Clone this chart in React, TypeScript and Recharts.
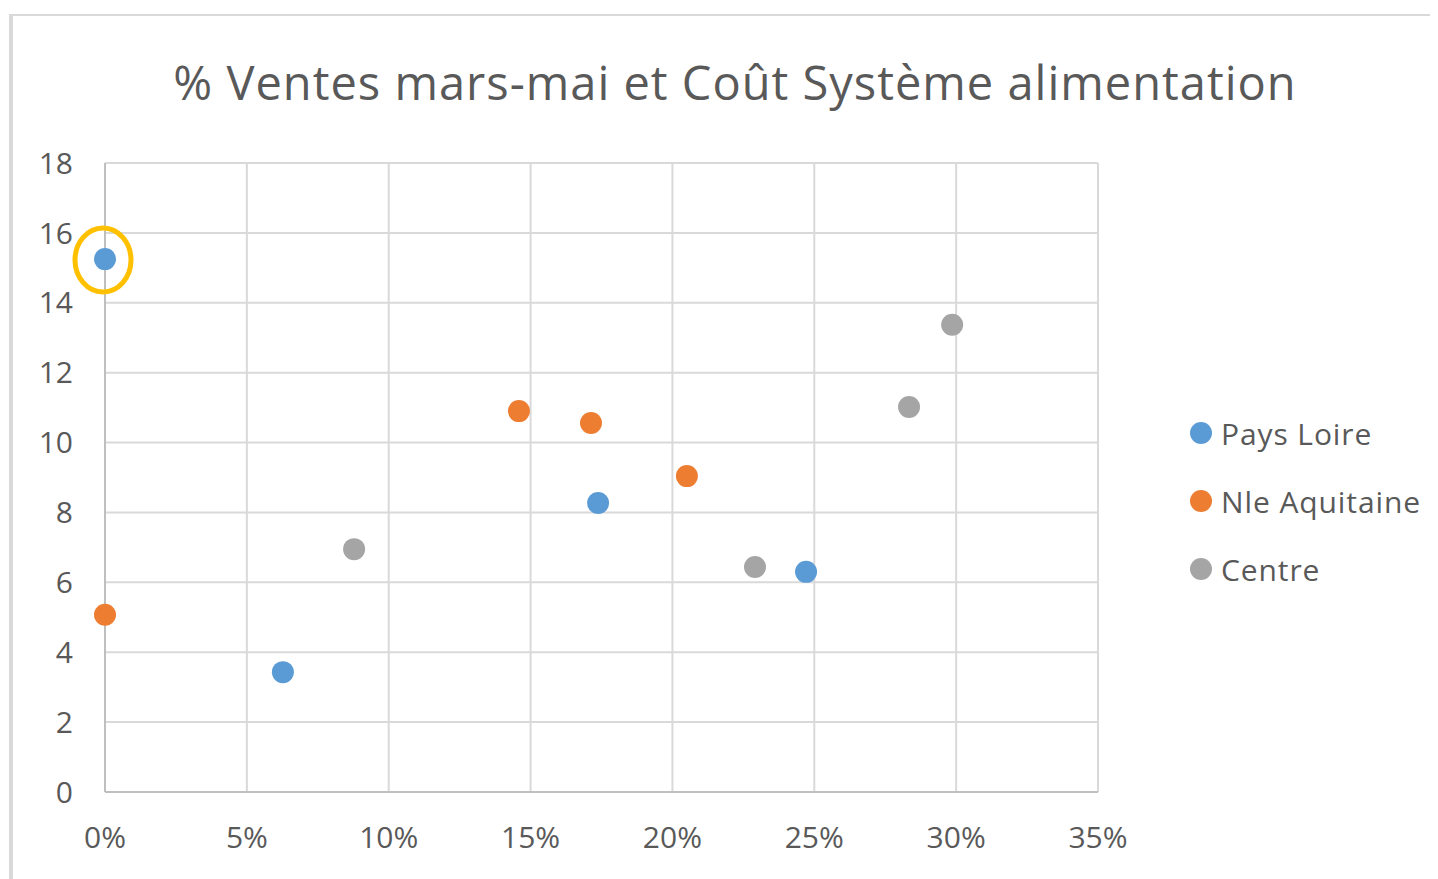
import React from 'react';
import {
  ScatterChart, Scatter, XAxis, YAxis, CartesianGrid, Legend, ReferenceDot,
} from 'recharts';

const seriesNames = ['Pays Loire', 'Nle Aquitaine', 'Centre'];
const seriesColors = ['#5B9BD5', '#ED7D31', '#A5A5A5'];

const paysLoire = [
  { x: 0.0, y: 15.25 },
  { x: 0.0627, y: 3.43 },
  { x: 0.1738, y: 8.27 },
  { x: 0.2471, y: 6.3 },
];
const nleAquitaine = [
  { x: 0.0, y: 5.07 },
  { x: 0.1459, y: 10.9 },
  { x: 0.1713, y: 10.56 },
  { x: 0.2051, y: 9.04 },
];
const centre = [
  { x: 0.0878, y: 6.95 },
  { x: 0.2291, y: 6.44 },
  { x: 0.2834, y: 11.02 },
  { x: 0.2986, y: 13.37 },
];

const xTicks = [0, 0.05, 0.1, 0.15, 0.2, 0.25, 0.3, 0.35];
const yTicks = [0, 2, 4, 6, 8, 10, 12, 14, 16, 18];
const highlight = { x: 0.0, y: 15.25 };

const FONT = '"Open Sans", "Noto Sans", sans-serif';
const TEXT = '#595959';

const dot = (color: string) => (props: any) => (
  <circle cx={props.cx} cy={props.cy} r={11} fill={color} />
);

const Ellipse = (props: any) => (
  <ellipse cx={props.cx - 2} cy={props.cy + 1} rx={28} ry={32} fill="none" stroke="#FFC000" strokeWidth={5} />
);

const LegendContent = () => (
  <div style={{ fontFamily: FONT, fontSize: 30, color: TEXT, letterSpacing: 0.9 }}>
    {seriesNames.map((n, i) => (
      <div key={n} style={{ display: 'flex', alignItems: 'center', height: 68 }}>
        <svg width={22} height={22} style={{ marginRight: 9 }}>
          <circle cx={11} cy={11} r={11} fill={seriesColors[i]} />
        </svg>
        <span>{n}</span>
      </div>
    ))}
  </div>
);

export default function App() {
  return (
    <div style={{ position: 'relative', width: 1430, height: 871, overflow: 'hidden' }}>
      <div
        style={{
          position: 'absolute', left: 1, top: 6, width: 2000, height: 2000,
          borderLeft: '4px solid #D9D9D9', borderTop: '2px solid #D9D9D9',
        }}
      />
      <div
        style={{
          position: 'absolute', left: 0, width: 1454, top: 51, textAlign: 'center',
          fontFamily: FONT, fontSize: 47, lineHeight: 1, color: TEXT, whiteSpace: 'nowrap',
          letterSpacing: 1,
        }}
      >
        % Ventes mars-mai et Coût Système alimentation
      </div>
      <div style={{ position: 'absolute', left: 0, top: 0 }}>
        <ScatterChart width={1430} height={871} margin={{ top: 155, right: 100, bottom: 27, left: 0 }}>
          <CartesianGrid stroke="#D9D9D9" strokeWidth={2} />
          <XAxis
            type="number" dataKey="x" domain={[0, 0.35]} ticks={xTicks} interval={0}
            tickFormatter={(v: number) => `${Math.round(v * 100)}%`}
            tick={{ fontFamily: FONT, fontSize: 30, fill: TEXT }}
            tickLine={false} tickSize={0} tickMargin={35} height={60}
            axisLine={{ stroke: '#BFBFBF', strokeWidth: 2 }}
          />
          <YAxis
            type="number" dataKey="y" domain={[0, 18]} ticks={yTicks} interval={0}
            tick={{ fontFamily: FONT, fontSize: 30, fill: TEXT }}
            tickLine={false} tickSize={0} tickMargin={32} width={97}
            axisLine={{ stroke: '#BFBFBF', strokeWidth: 2 }}
          />
          <Legend
            layout="vertical" align="right" verticalAlign="middle"
            content={<LegendContent />}
            wrapperStyle={{ position: 'absolute', left: 1182, top: 391, width: 240 }}
          />
          <Scatter name={seriesNames[0]} data={paysLoire} fill={seriesColors[0]} shape={dot(seriesColors[0])} isAnimationActive={false} />
          <Scatter name={seriesNames[1]} data={nleAquitaine} fill={seriesColors[1]} shape={dot(seriesColors[1])} isAnimationActive={false} />
          <Scatter name={seriesNames[2]} data={centre} fill={seriesColors[2]} shape={dot(seriesColors[2])} isAnimationActive={false} />
          <ReferenceDot x={highlight.x} y={highlight.y} r={30} shape={<Ellipse />} ifOverflow="visible" />
        </ScatterChart>
      </div>
    </div>
  );
}
